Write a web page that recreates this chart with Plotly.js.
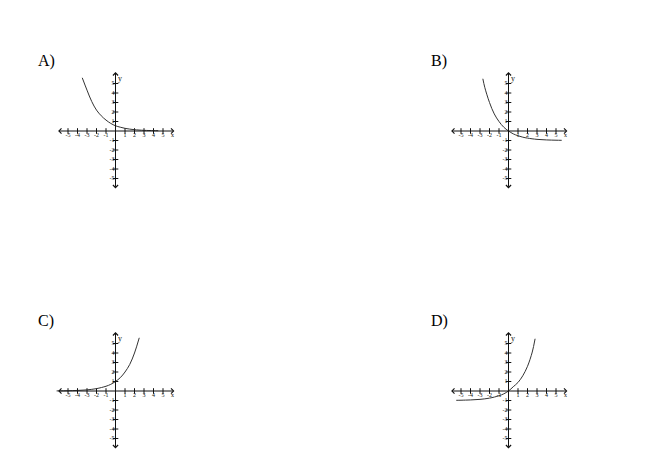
<!DOCTYPE html>
<html>
<head>
<meta charset="utf-8">
<script src="https://cdn.plot.ly/plotly-3.0.1.min.js"></script>
<style>html,body{margin:0;padding:0;background:#fff;}#chart{width:653px;height:471px;}</style>
</head>
<body>
<div id="chart"></div>
<script>
// ---- data ----
const panelNames = ["A)", "B)", "C)", "D)"];

const aX = [-3.5, -3, -2.5, -2, -1.5, -1, -0.5, 0, 0.5, 1, 1.5, 2, 3, 4, 4.5];
const aY = [5.6, 4.3, 3.1, 2.2, 1.6, 1.15, 0.8, 0.55, 0.4, 0.28, 0.2, 0.14, 0.07, 0.04, 0.03];

const bX = [-2.7, -2.5, -2, -1.5, -1, -0.5, 0, 0.5, 1, 1.5, 2, 3, 4, 5, 5.6];
const bY = [5.5, 4.6, 3.0, 1.8, 1.0, 0.4, 0, -0.3, -0.5, -0.65, -0.75, -0.88, -0.94, -0.97, -0.98];

const cX = [-6.2, -5, -4, -3, -2, -1, -0.5, 0, 0.5, 1, 1.5, 2, 2.5];
const cY = [0.01, 0.03, 0.06, 0.12, 0.25, 0.5, 0.7, 1.0, 1.4, 2.0, 2.8, 4.0, 5.6];

const dX = [-5.5, -5, -4, -3, -2, -1, -0.5, 0, 0.5, 1, 1.5, 2, 2.5, 2.8];
const dY = [-0.98, -0.97, -0.94, -0.88, -0.75, -0.5, -0.3, 0, 0.45, 0.9, 1.6, 2.6, 4.1, 5.5];

const tickVals = [-5, -4, -3, -2, -1, 1, 2, 3, 4, 5];
const tickText = ["-5", "-4", "-3", "-2", "-1", "1", "2", "3", "4", "5"];
const xAxisName = "x";
const yAxisName = "y";

// ---- layout helpers ----
const W = 653, H = 471, U = 9.5, HALF = 6.5;
const centers = [[115.5, 131], [508.5, 131], [115.5, 391], [508.5, 391]];
const curvesX = [aX, bX, cX, dX];
const curvesY = [aY, bY, cY, dY];
const ink = "#111111";
const curveInk = "#333333";
const serif = "Liberation Serif, Times New Roman, serif";

const data = [];
const layout = {
  width: W, height: H,
  margin: {l: 0, r: 0, t: 0, b: 0},
  paper_bgcolor: "#fff", plot_bgcolor: "rgba(0,0,0,0)",
  showlegend: false,
  annotations: []
};

centers.forEach(([cx, cy], i) => {
  const s = i === 0 ? "" : String(i + 1);
  const xr = "x" + s, yr = "y" + s;
  const half = HALF * U;
  layout["xaxis" + s] = {
    domain: [(cx - half) / W, (cx + half) / W],
    range: [-HALF, HALF], visible: false, fixedrange: true, anchor: yr
  };
  layout["yaxis" + s] = {
    domain: [(H - cy - half) / H, (H - cy + half) / H],
    range: [-HALF, HALF], visible: false, fixedrange: true, anchor: xr
  };

  // axis lines with arrows at both ends
  layout.annotations.push({
    xref: xr, yref: yr, axref: xr, ayref: yr,
    x: 6.2, y: 0, ax: -6.2, ay: 0, text: "",
    showarrow: true, arrowhead: 4, startarrowhead: 4, arrowside: "end+start",
    arrowsize: 1, startarrowsize: 1, arrowwidth: 1, arrowcolor: ink, standoff: 0, startstandoff: 0
  });
  layout.annotations.push({
    xref: xr, yref: yr, axref: xr, ayref: yr,
    x: 0, y: 6.2, ax: 0, ay: -6.2, text: "",
    showarrow: true, arrowhead: 4, startarrowhead: 4, arrowside: "end+start",
    arrowsize: 1, startarrowsize: 1, arrowwidth: 1, arrowcolor: ink, standoff: 0, startstandoff: 0
  });

  // tick marks
  data.push({
    x: tickVals, y: tickVals.map(() => 0), xaxis: xr, yaxis: yr,
    type: "scatter", mode: "markers", hoverinfo: "skip",
    marker: {symbol: "line-ns", size: 4, line: {width: 1, color: ink}}
  });
  data.push({
    x: tickVals.map(() => 0), y: tickVals, xaxis: xr, yaxis: yr,
    type: "scatter", mode: "markers", hoverinfo: "skip",
    marker: {symbol: "line-ew", size: 4, line: {width: 1, color: ink}}
  });

  // tick labels
  data.push({
    x: tickVals.concat([6.0]), y: tickVals.map(() => -0.5).concat([-0.5]),
    text: tickText.concat([xAxisName]), xaxis: xr, yaxis: yr,
    type: "scatter", mode: "text", textposition: "middle center", hoverinfo: "skip",
    textfont: {family: serif, size: 6, color: ink}
  });
  data.push({
    x: tickVals.map(() => -0.1), y: tickVals, text: tickText, xaxis: xr, yaxis: yr,
    type: "scatter", mode: "text", textposition: "middle left", hoverinfo: "skip",
    textfont: {family: serif, size: 6, color: ink}
  });
  data.push({
    x: [0.25], y: [5.5], text: [yAxisName], xaxis: xr, yaxis: yr,
    type: "scatter", mode: "text", textposition: "middle right", hoverinfo: "skip",
    textfont: {family: serif, size: 8, color: ink}
  });

  // the curve
  data.push({
    x: curvesX[i], y: curvesY[i], xaxis: xr, yaxis: yr,
    type: "scatter", mode: "lines", hoverinfo: "skip",
    line: {color: curveInk, width: 1, shape: "spline", smoothing: 1}
  });

  // panel label
  layout.annotations.push({
    xref: "paper", yref: "paper",
    x: (cx - 80) / W, y: (H - cy + 70) / H,
    xanchor: "left", yanchor: "middle", showarrow: false,
    text: panelNames[i], font: {family: serif, size: 16, color: "#000"}
  });
});

Plotly.newPlot("chart", data, layout, {staticPlot: true, displayModeBar: false});
</script>
</body>
</html>
